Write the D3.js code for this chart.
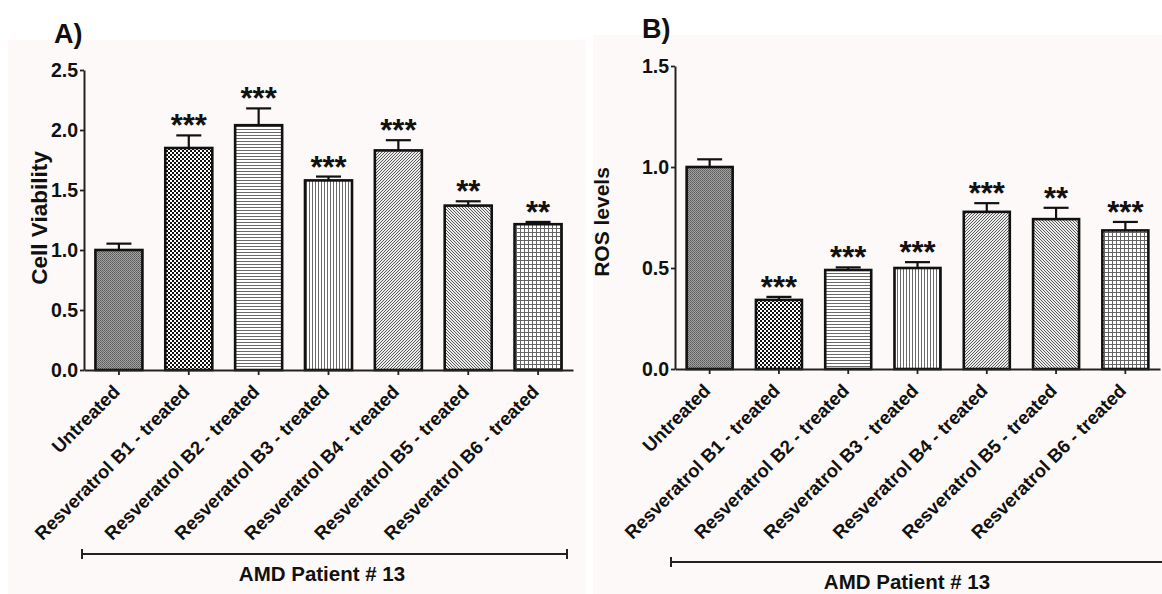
<!DOCTYPE html>
<html><head><meta charset="utf-8">
<script src="https://cdn.jsdelivr.net/npm/d3@7"></script>
<style>html,body{margin:0;padding:0;background:#fff;}svg{display:block;}</style>
</head><body>
<svg id="chart" width="1162" height="594"></svg>
<script>
const categories = ["Untreated","Resveratrol B1 - treated","Resveratrol B2 - treated","Resveratrol B3 - treated","Resveratrol B4 - treated","Resveratrol B5 - treated","Resveratrol B6 - treated"];
const viability = [1.00, 1.85, 2.04, 1.58, 1.83, 1.37, 1.215];
const viabilityErr = [0.053, 0.105, 0.14, 0.032, 0.085, 0.036, 0.019];
const viabilitySig = ["", "***", "***", "***", "***", "**", "**"];
const viabilityTicks = [0.0, 0.5, 1.0, 1.5, 2.0, 2.5];
const ros = [1.00, 0.342, 0.49, 0.50, 0.778, 0.742, 0.686];
const rosErr = [0.038, 0.015, 0.013, 0.029, 0.043, 0.056, 0.042];
const rosSig = ["", "***", "***", "***", "***", "**", "***"];
const rosTicks = [0.0, 0.5, 1.0, 1.5];
const groupLabel = "AMD Patient # 13";

const FONT = "'Liberation Sans', Arial, Helvetica, sans-serif";
const svg = d3.select("#chart");
const defs = svg.append("defs");

function pat(id, w, h, bg, draw) {
  const p = defs.append("pattern").attr("id", id).attr("patternUnits", "userSpaceOnUse")
    .attr("width", w).attr("height", h);
  p.append("rect").attr("width", w).attr("height", h).attr("fill", bg);
  draw(p);
}
pat("p0", 2, 2, "#a4a4a4", p => {
  p.append("rect").attr("x", 0).attr("y", 0).attr("width", 1).attr("height", 1).attr("fill", "#585858");
  p.append("rect").attr("x", 1).attr("y", 1).attr("width", 1).attr("height", 1).attr("fill", "#6a6a6a");
});
pat("p1", 4, 4, "#ffffff", p => {
  p.append("rect").attr("x", 0).attr("y", 0).attr("width", 2).attr("height", 2).attr("fill", "#111");
  p.append("rect").attr("x", 2).attr("y", 2).attr("width", 2).attr("height", 2).attr("fill", "#111");
});
pat("p2", 3, 3, "#ffffff", p => {
  p.append("rect").attr("x", 0).attr("y", 0).attr("width", 3).attr("height", 1).attr("fill", "#6a6a6a");
});
pat("p3", 3, 3, "#ffffff", p => {
  p.append("rect").attr("x", 0).attr("y", 0).attr("width", 1).attr("height", 3).attr("fill", "#6a6a6a");
});
pat("p4", 3, 3, "#ececec", p => {
  p.append("path").attr("d", "M-1,1 L1,-1 M0,3 L3,0 M2,4 L4,2").attr("stroke", "#5a5a5a").attr("stroke-width", 1);
});
pat("p5", 3, 3, "#ececec", p => {
  p.append("path").attr("d", "M-1,2 L1,4 M0,0 L3,3 M2,-1 L4,1").attr("stroke", "#5a5a5a").attr("stroke-width", 1);
});
pat("p6", 4, 4, "#ffffff", p => {
  p.append("rect").attr("x", 0).attr("y", 0).attr("width", 4).attr("height", 1).attr("fill", "#666");
  p.append("rect").attr("x", 0).attr("y", 0).attr("width", 1).attr("height", 4).attr("fill", "#666");
});
const patterns = ["p0","p1","p2","p3","p4","p5","p6"];

function panel(cfg) {
  const g = svg.append("g");
  g.append("rect").attr("x", cfg.bg[0]).attr("y", cfg.bg[1]).attr("width", cfg.bg[2]).attr("height", cfg.bg[3]).attr("fill", "#fcf9f8");
  g.append("text").attr("x", cfg.title[0]).attr("y", cfg.title[1]).text(cfg.titleText)
    .attr("font-family", FONT).attr("font-weight", "bold").attr("font-size", 27).attr("fill", "#111");

  const x = d3.scaleBand().domain(categories).range([cfg.x0, cfg.x1]).paddingInner(cfg.pi).paddingOuter(cfg.pi / 2);
  const y = d3.scaleLinear().domain([0, cfg.ymax]).range([cfg.y0, cfg.y1]);

  g.selectAll("rect.bar").data(categories).join("rect").attr("class", "bar")
    .attr("x", d => x(d)).attr("width", x.bandwidth())
    .attr("y", (d, i) => y(cfg.values[i])).attr("height", (d, i) => y(0) - y(cfg.values[i]))
    .attr("fill", (d, i) => "url(#" + patterns[i] + ")").attr("stroke", "#111").attr("stroke-width", 2.6);

  const eb = g.selectAll("g.err").data(categories).join("g").attr("class", "err");
  eb.append("line").attr("x1", d => x(d) + x.bandwidth() / 2).attr("x2", d => x(d) + x.bandwidth() / 2)
    .attr("y1", (d, i) => y(cfg.values[i])).attr("y2", (d, i) => y(cfg.values[i] + cfg.err[i]))
    .attr("stroke", "#111").attr("stroke-width", 2.2);
  eb.append("line").attr("x1", d => x(d) + x.bandwidth() / 2 - 12.5).attr("x2", d => x(d) + x.bandwidth() / 2 + 12.5)
    .attr("y1", (d, i) => y(cfg.values[i] + cfg.err[i])).attr("y2", (d, i) => y(cfg.values[i] + cfg.err[i]))
    .attr("stroke", "#111").attr("stroke-width", 2.2);

  g.selectAll("text.sig").data(categories).join("text").attr("class", "sig")
    .attr("x", d => x(d) + x.bandwidth() / 2)
    .attr("y", (d, i) => y(cfg.values[i] + cfg.err[i]) + 1)
    .attr("text-anchor", "middle").attr("font-family", FONT).attr("font-weight", "bold")
    .attr("font-size", 31).attr("fill", "#111")
    .text((d, i) => cfg.sig[i]);

  const ya = g.append("g").attr("transform", `translate(${cfg.x0},0)`)
    .call(d3.axisLeft(y).tickValues(cfg.ticks).tickFormat(d3.format(".1f")).tickSize(4).tickSizeOuter(0).tickPadding(2));
  ya.select(".domain").attr("stroke", "#222").attr("stroke-width", 2);
  ya.selectAll(".tick line").attr("stroke", "#222").attr("stroke-width", 1.8);
  ya.selectAll(".tick text").attr("font-family", FONT).attr("font-weight", "bold").attr("font-size", 19.5).attr("fill", "#111");

  const xa = g.append("g").attr("transform", `translate(0,${cfg.y0})`)
    .call(d3.axisBottom(x).tickSize(5).tickSizeOuter(0));
  xa.select(".domain").attr("stroke", "#222").attr("stroke-width", 2);
  xa.selectAll(".tick line").attr("stroke", "#222").attr("stroke-width", 1.8);
  xa.selectAll(".tick text").attr("font-family", FONT).attr("font-weight", "bold").attr("font-size", 18.6)
    .attr("fill", "#111").attr("text-anchor", "end").attr("dy", 0).attr("y", 0)
    .attr("transform", "translate(2,23) rotate(-45)");

  g.append("text").attr("transform", `translate(${cfg.ylab[0]},${cfg.ylab[1]}) rotate(-90)`)
    .attr("text-anchor", "middle").attr("font-family", FONT).attr("font-weight", "bold").attr("font-size", cfg.ylabSize)
    .attr("fill", "#111").text(cfg.ylabText);

  const b = cfg.bracket;
  g.append("path").attr("d", `M${b[0]},${b[2] - 5}V${b[2] + 5}M${b[0]},${b[2]}H${b[1]}M${b[1]},${b[2] - 5}V${b[2] + 5}`)
    .attr("stroke", "#222").attr("stroke-width", 2).attr("fill", "none");
  g.append("text").attr("x", cfg.glab[0]).attr("y", cfg.glab[1]).attr("text-anchor", "middle")
    .attr("font-family", FONT).attr("font-weight", "bold").attr("font-size", 20.5).attr("fill", "#111").text(groupLabel);
}

panel({
  bg: [8, 40, 578, 554], title: [54, 43], titleText: "A)",
  x0: 84, x1: 573, y0: 370, y1: 70, ymax: 2.5, pi: 0.327,
  values: viability, err: viabilityErr, sig: viabilitySig, ticks: viabilityTicks,
  ylab: [47, 218], ylabText: "Cell Viability", ylabSize: 22.5,
  bracket: [82, 567, 554], glab: [322, 581]
});
panel({
  bg: [593, 35, 569, 559], title: [642, 38], titleText: "B)",
  x0: 675, x1: 1160, y0: 369, y1: 66, ymax: 1.5, pi: 0.336,
  values: ros, err: rosErr, sig: rosSig, ticks: rosTicks,
  ylab: [609, 222], ylabText: "ROS levels", ylabSize: 21,
  bracket: [671, 1175, 562], glab: [907, 589]
});
</script>
</body></html>
